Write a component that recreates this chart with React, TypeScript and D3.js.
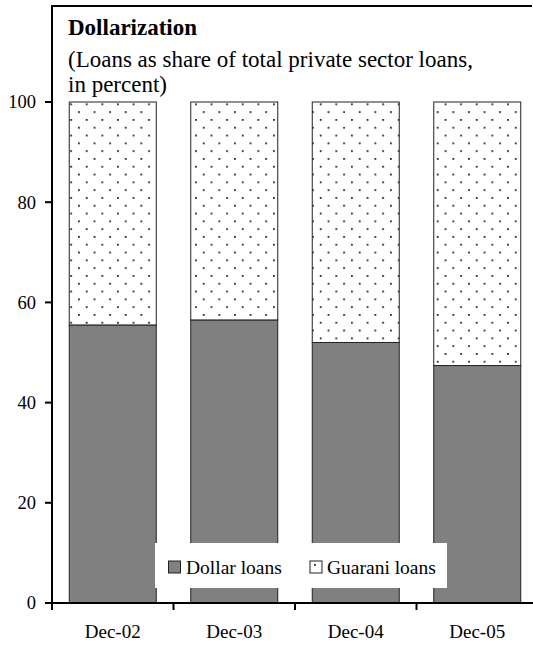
import React from "react";
import * as d3 from "d3";

// Loan composition by currency, share of total private sector loans (%)
const categories: string[] = ["Dec-02", "Dec-03", "Dec-04", "Dec-05"];
const dollarLoans: number[] = [55.5, 56.5, 52.0, 47.4];
const guaraniLoans: number[] = [44.5, 43.5, 48.0, 52.6];
const yTicks: number[] = [0, 20, 40, 60, 80, 100];
const seriesNames: string[] = ["Dollar loans", "Guarani loans"];

const W = 533;
const H = 646;
const FONT = "'Times New Roman', 'Liberation Serif', 'DejaVu Serif', serif";

export default function App() {
  const left = 52;
  const bottom = 603;
  const top = 102;
  const frameTop = 6;

  const x = d3
    .scaleBand<string>()
    .domain(categories)
    .range([left, 538])
    .paddingInner(0.284)
    .paddingOuter(0.142);

  const y = d3.scaleLinear().domain([0, 100]).range([bottom, top]);

  const stacked = d3
    .stack<{ cat: string; dollar: number; guarani: number }>()
    .keys(["dollar", "guarani"])(
    categories.map((c, i) => ({ cat: c, dollar: dollarLoans[i], guarani: guaraniLoans[i] }))
  );

  const step = x.step();
  const boundaries = d3.range(categories.length + 1).map((i) => left + i * step);
  const txt = { fontFamily: FONT };

  return (
    <svg
      width={W}
      height={H}
      style={{ position: "absolute", left: 0, top: 0, background: "#fff", fontFamily: FONT }}
    >
      <defs>
        <pattern id="dots" patternUnits="userSpaceOnUse" x={0} y={2} width={15.6} height={15.6}>
          <rect width={15.6} height={15.6} fill="#fff" />
          <rect x={0} y={0} width={1.8} height={1.8} fill="#2a2a2a" />
          <rect x={7.8} y={7.8} width={1.8} height={1.8} fill="#2a2a2a" />
        </pattern>
        <pattern id="dots-key" patternUnits="userSpaceOnUse" x={314} y={564} width={15.6} height={15.6}>
          <rect width={15.6} height={15.6} fill="#fff" />
          <rect x={0} y={0} width={1.8} height={1.8} fill="#2a2a2a" />
        </pattern>
      </defs>
      <rect width={W} height={H} fill="#fff" />

      {/* Bars */}
      {stacked.map((layer, li) => (
        <g key={layer.key}>
          {layer.map((d, i) => (
            <rect
              key={categories[i]}
              x={x(categories[i])}
              y={y(d[1])}
              width={x.bandwidth()}
              height={y(d[0]) - y(d[1])}
              fill={li === 0 ? "#808080" : "url(#dots)"}
              stroke="#222"
              strokeWidth={1}
            />
          ))}
        </g>
      ))}

      {/* Frame: top border and y-axis */}
      <line x1={left} x2={532} y1={frameTop} y2={frameTop} stroke="#000" strokeWidth={2} />
      <line x1={left} x2={left} y1={frameTop - 1} y2={bottom} stroke="#000" strokeWidth={2} />

      {/* Y ticks */}
      {yTicks.map((t) => (
        <g key={t}>
          <line x1={left - 7} x2={left} y1={y(t)} y2={y(t)} stroke="#000" strokeWidth={2} />
          <text x={36} y={y(t)} dy="0.35em" textAnchor="end" fontSize={18.5} style={txt}>
            {t}
          </text>
        </g>
      ))}

      {/* X axis */}
      <line x1={left - 1} x2={W} y1={bottom} y2={bottom} stroke="#000" strokeWidth={2} />
      {boundaries.map((b, i) => (
        <line key={i} x1={b} x2={b} y1={bottom} y2={bottom + 7} stroke="#000" strokeWidth={2} />
      ))}
      {categories.map((c) => (
        <text key={c} x={(x(c) ?? 0) + x.bandwidth() / 2} y={638} textAnchor="middle" fontSize={19} style={txt}>
          {c}
        </text>
      ))}

      {/* Title */}
      <text x={68} y={35} fontSize={23} fontWeight="bold" style={txt}>
        Dollarization
      </text>
      <text x={68} y={66.5} fontSize={23} style={txt}>
        (Loans as share of total private sector loans,
      </text>
      <text x={68} y={92} fontSize={23} style={txt}>
        in percent)
      </text>

      {/* Legend */}
      <rect x={155} y={543} width={292} height={45} fill="#fff" />
      <rect x={168.5} y={561} width={12} height={12} fill="#808080" stroke="#222" strokeWidth={1} />
      <text x={186} y={573.5} fontSize={19.5} style={txt}>
        {seriesNames[0]}
      </text>
      <rect x={310} y={561} width={12} height={12} fill="url(#dots-key)" stroke="#222" strokeWidth={1} />
      <text x={327} y={573.5} fontSize={19.5} style={txt}>
        {seriesNames[1]}
      </text>
    </svg>
  );
}
